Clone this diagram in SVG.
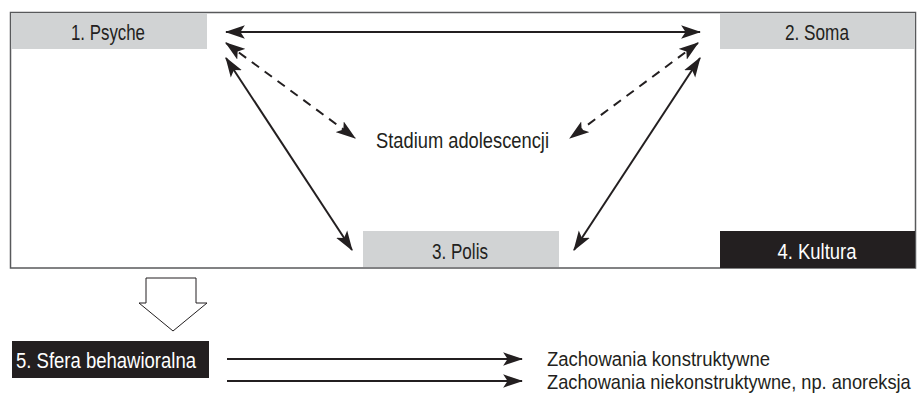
<svg xmlns="http://www.w3.org/2000/svg" width="917" height="397" viewBox="0 0 917 397">
<style>
text{font-family:"Liberation Sans",Arial,sans-serif;font-size:22px;fill:#231f20}
.lbl{text-anchor:middle}
.w{fill:#ffffff}
.sm{font-size:20px}
.grey{fill:#d1d3d4}
.blk{fill:#231f20}
.con{stroke:#231f20;stroke-width:2;fill:none}
.dash{stroke-dasharray:9,7}
</style>
<defs>
<marker id="ah" markerUnits="userSpaceOnUse" markerWidth="20" markerHeight="14" viewBox="0 0 18 12" refX="17" refY="6" orient="auto-start-reverse">
<path d="M0,0 L18,6 L0,12 L4,6 z" fill="#231f20"/>
</marker>
</defs>
<rect x="10.5" y="12.5" width="905" height="255.5" fill="#ffffff" stroke="#58595b" stroke-width="1.5"/>
<g id="psyche">
<rect class="grey" x="11" y="13" width="196" height="36"/>
<text class="lbl" x="108" y="39.5" textLength="74" lengthAdjust="spacingAndGlyphs">1. Psyche</text>
</g>
<g id="soma">
<rect class="grey" x="720" y="13" width="195" height="36"/>
<text class="lbl" x="817" y="39.5" textLength="64" lengthAdjust="spacingAndGlyphs">2. Soma</text>
</g>
<g id="polis">
<rect class="grey" x="363" y="231" width="196" height="36"/>
<text class="lbl" x="460" y="258.5" textLength="56" lengthAdjust="spacingAndGlyphs">3. Polis</text>
</g>
<g id="kultura">
<rect class="blk" x="720" y="231" width="195" height="37"/>
<text class="lbl w" x="817" y="258.5" textLength="79" lengthAdjust="spacingAndGlyphs">4. Kultura</text>
</g>
<g id="stadium">
<text x="376" y="148" textLength="173" lengthAdjust="spacingAndGlyphs">Stadium adolescencji</text>
</g>
<g id="sfera">
<rect class="blk" x="12" y="341" width="197" height="37"/>
<text x="16" y="368" class="w" textLength="180" lengthAdjust="spacingAndGlyphs">5. Sfera behawioralna</text>
</g>
<g id="outcome1">
<text class="sm" x="547" y="366" textLength="223" lengthAdjust="spacingAndGlyphs">Zachowania konstruktywne</text>
</g>
<g id="outcome2">
<text class="sm" transform="translate(547,389) scale(0.912,1)" x="0" y="0">Zachowania niekonstruktywne, np. anoreksja</text>
</g>
<g id="connectors">
<line class="con" x1="226" y1="32" x2="700" y2="32" marker-start="url(#ah)" marker-end="url(#ah)"/>
<line class="con dash" x1="226" y1="43" x2="355" y2="138" marker-start="url(#ah)" marker-end="url(#ah)"/>
<line class="con dash" x1="698" y1="43" x2="570" y2="138" marker-start="url(#ah)" marker-end="url(#ah)"/>
<line class="con" x1="226" y1="58" x2="352" y2="250" marker-start="url(#ah)" marker-end="url(#ah)"/>
<line class="con" x1="700" y1="58" x2="574" y2="250" marker-start="url(#ah)" marker-end="url(#ah)"/>
<line class="con" x1="227" y1="359" x2="522" y2="359" marker-end="url(#ah)"/>
<line class="con" x1="227" y1="381" x2="522" y2="381" marker-end="url(#ah)"/>
<path d="M146,278 L196,278 L196,303 L207,303 L173,331 L139,303 L146,303 Z" fill="#ffffff" stroke="#231f20" stroke-width="1"/>
</g>
</svg>
